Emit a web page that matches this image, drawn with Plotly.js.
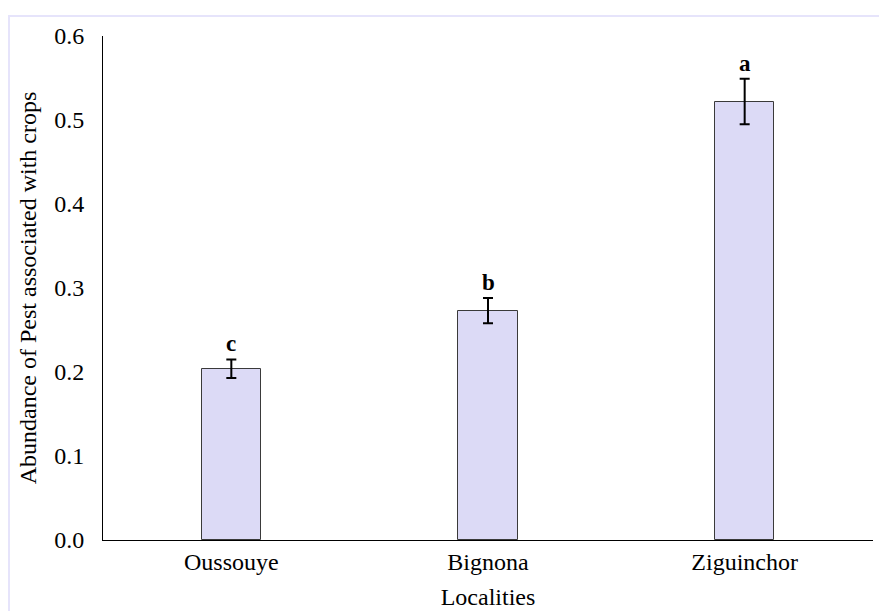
<!DOCTYPE html>
<html><head><meta charset="utf-8">
<script src="https://cdn.plot.ly/plotly-3.0.1.min.js"></script>
<style>html,body{margin:0;padding:0;background:#fff;}#chart{width:879px;height:611px;}
#frame{position:absolute;left:8px;top:15px;width:900px;height:700px;border-top:2px solid #e6e4fb;border-left:2px solid #e6e4fb;pointer-events:none;}</style>
</head><body>
<div id="chart"></div><div id="frame"></div>
<script>
const categories = ["Oussouye", "Bignona", "Ziguinchor"];
const values = [0.204, 0.273, 0.522];
const errors = [0.011, 0.015, 0.027];
const letters = ["c", "b", "a"];

const font = {family: "Liberation Serif, Times New Roman, serif", color: "#000"};
const trace = {
  type: "bar", x: categories, y: values, width: 0.23,
  marker: {color: "#dcdaf6", line: {color: "#3a3a3a", width: 1}},
  error_y: {type: "data", array: errors, visible: true, color: "#000", thickness: 2, width: 5}
};
const annotations = categories.map((c, i) => ({
  x: c, y: values[i] + errors[i], text: "<b>" + letters[i] + "</b>", showarrow: false,
  yanchor: "bottom", yshift: 1, font: Object.assign({size: 23}, font)
}));
const layout = {
  width: 879, height: 611,
  margin: {l: 103, r: 6, t: 36, b: 71},
  paper_bgcolor: "#fff", plot_bgcolor: "#fff",
  showlegend: false, bargap: 0,
  font: Object.assign({size: 24}, font),
  xaxis: {
    showline: true, linecolor: "#000", linewidth: 1, ticks: "", showgrid: false,
    tickfont: Object.assign({size: 24}, font),
    title: {text: "Localities", font: Object.assign({size: 24}, font), standoff: 14}
  },
  yaxis: {
    range: [0, 0.6], dtick: 0.1, tickformat: ".1f",
    showline: true, linecolor: "#000", linewidth: 1, ticks: "", showgrid: false, zeroline: false,
    tickfont: Object.assign({size: 24}, font), ticklabelstandoff: 13,
    title: {text: "Abundance of Pest associated with crops", font: Object.assign({size: 24}, font), standoff: 10}
  },
  annotations: annotations
};
Plotly.newPlot("chart", [trace], layout, {displayModeBar: false});
</script>
</body></html>
